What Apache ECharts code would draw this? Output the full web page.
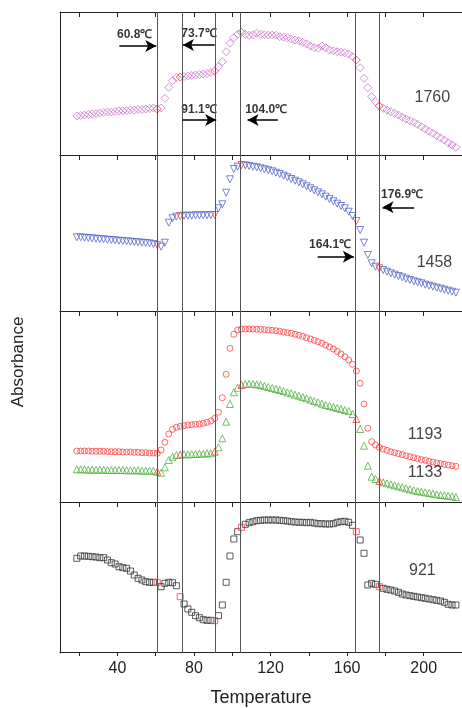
<!DOCTYPE html>
<html><head><meta charset="utf-8">
<script src="https://cdn.jsdelivr.net/npm/echarts@6/dist/echarts.min.js"></script>
<style>html,body{margin:0;padding:0;background:#fff;}#c{width:462px;height:708px;}</style>
</head><body><div id="c"></div>
<script>
// ---- data ----
const temps = [
18.8,20.8,22.8,24.8,26.8,28.8,30.8,32.8,34.8,36.8,
38.8,40.8,42.8,44.8,46.8,48.8,50.8,52.8,54.8,56.8,
58.8,60.8,62.8,64.8,66.8,68.8,70.8,72.8,74.8,76.8,
78.8,80.8,82.8,84.8,86.8,88.8,90.8,92.8,94.8,96.8,
98.8,100.8,102.8,104.8,106.8,108.8,110.8,112.8,114.8,116.8,
118.8,120.8,122.8,124.8,126.8,128.8,130.8,132.8,134.8,136.8,
138.8,140.8,142.8,144.8,146.8,148.8,150.8,152.8,154.8,156.8,
158.8,160.8,162.8,164.8,166.8,168.8,170.8,172.8,174.8,176.8,
178.8,180.8,182.8,184.8,186.8,188.8,190.8,192.8,194.8,196.8,
198.8,200.8,202.8,204.8,206.8,208.8,210.8,212.8,214.8,216.8];

const abs1760 = [
39,39.5,40,40.5,41,41.5,42,42.5,43,43,
43.5,44,44,44.5,45,45,45.5,45.5,46,46.5,
47,46,47,56.7,67.7,74.3,77.5,78,78.5,79,
79.5,80,80.5,81,81.5,82.5,84,88.3,93.3,103.3,
111.7,117.3,120.7,122.7,120.7,119.7,120.3,121.7,120.7,120.3,
120,120,119.7,118.3,117.7,117.3,116,115,114,112.7,
111,109,107.3,106.7,109,107.3,105,104.3,103.3,102.7,
102.3,101,98.3,95,87.3,76.7,67.3,58.3,53.3,49,
46.7,45,43.3,41.7,40,37.7,36,34.3,32.7,30.7,
28.3,26,23.7,21.7,19.3,17,15,12.3,10,7.7];

const abs1458 = [
73.7,73.7,73.3,73,72.7,72.3,72,71.7,71.3,71,
70.7,70.3,70,69.7,69.3,69,68.7,68.3,68,67.7,
67,66,64.3,68.3,88.3,92.7,94.3,95,95.3,95.3,
95.3,95.7,95.7,95.7,95.7,96,96,102.7,106.7,118.3,
131.7,142,144.3,146,145.7,145,144.3,143.7,142.7,141.7,
140.7,139.7,138.3,137,135.3,133.7,132,130.3,128.7,126.7,
124.7,122.7,120.7,118.7,116.7,114.3,112,109.7,107.3,105,
102.7,99.3,95,90,81,68.3,56,47.7,44.3,42.7,
41,39.3,37.7,36.3,35,33.7,32.3,31,29.7,28.7,
27.7,26.3,25.3,24.3,23.3,22.3,21.3,20.3,19.3,18.3];

const abs1193 = [
51,51,51,51,50.7,50.7,50.7,50.7,50.3,50.3,
50.3,50.3,50,50,50,49.7,49.7,49.3,49.3,49,
49,48.7,52,59.7,68,72.7,74.7,75.7,76.3,77,
77.3,77.7,78,78.7,79.7,81,83.7,89.7,104.3,127.7,
153.7,167.7,172,173,173,173,173,172.7,172.7,172.3,
172,171.7,171.3,170.7,170,169.3,168.7,167.7,166.7,165.7,
164.3,163,161.7,160.3,158.7,157,155,153,150.7,148,
145.3,142,137.7,131,118.7,98,73.7,60.3,57,54.7,
53,51.7,50.3,49.3,48.3,47.3,46.3,45.3,44.3,43.3,
42.3,41.7,40.7,40,39,38.3,37.7,37,36.3,35.7];

const abs1133 = [
32.7,32.7,32.7,32.3,32.3,32.3,32.3,32.3,32,32,
32,32,32,31.7,31.7,31.7,31.7,31.3,31.3,31.3,
31.3,30.3,29.3,34.7,42,45.3,47,47.3,47.7,47.7,
48,48,48.3,48.3,48.7,48.7,50.3,54.7,63.7,80.3,
98,109.7,114.3,117,118,118.3,118,117.7,117,116,
115,114,113,112,111,109.7,108.7,107.3,106.3,105,
103.7,102.3,101,99.7,98.3,97,96,95,94,93,
92,91,88,83,73,56.3,36.3,25.3,23,21,
19.7,18.7,17.7,16.7,15.7,14.7,13.7,12.7,11.7,11,
10.3,9.7,9,8.3,7.7,7,6.7,6.3,5.7,5];

const abs921 = [
94.7,97,97,96.7,96.3,96,95.3,95.3,93,90.3,
89,86.3,85.3,84.7,82,78,74.7,73,71.3,70.7,
70.7,70.7,66.3,69.7,70.7,70.3,67.3,56.3,49,44,
40.7,37.3,35.3,33.3,32.7,32.7,32.3,37.3,48,70.7,
97,114,121.3,125.7,128.7,130.3,131.3,132.3,132.7,133,
133,133,133,132.7,132.3,132,131.3,131,130.7,130.7,
130.3,130.7,130,129.3,129.3,129,129,129.3,130.7,131.3,
131.7,130.7,127.7,121.3,113,99.7,68,69.7,68.7,66.3,
64.7,63.7,63,62,60.7,59,58,57.3,56.7,56,
55.3,54.7,54,53.3,52.7,52,50.7,48.7,48,48];

const transitions = [60.8, 73.7, 91.1, 104.0, 164.1, 176.9];
const tickValues = [20,40,60,80,100,120,140,160,180,200,220];
const labelValues = [40,80,120,160,200];

const arrowTexts = ['60.8℃','73.7℃','91.1℃','104.0℃','176.9℃','164.1℃'];
const arrowPanels = [0,0,0,0,1,1];
const arrowFrom = [[41,109],[90.8,110],[73.9,35],[123.8,35],[195,103.7],[144.6,54.3]];
const arrowTo   = [[60.3,109],[74.2,110],[91.6,35],[108,35],[178.5,103.7],[163.5,54.3]];
const arrowTextPos = [[49,120],[82.6,121.7],[82.6,45],[117.7,45.7],[188.7,116],[151.1,66]];

const seriesNames = ['1760','1458','1193','1133','921'];
const namePanels = [0,1,2,2,3];
const namePos = [[204.5,57],[205.6,48],[200.7,67],[200.7,29],[199.3,82]];

// ---- layout ----
const FONT = '"Liberation Sans", Arial, sans-serif';
const gridTops = [12,155,311,502];
const gridHeights = [143,156,191,151];

const grids = gridTops.map((t,i)=>({left:60, right:0, top:t, height:gridHeights[i]}));
grids.push({left:60, right:0, top:gridTops[3], height:gridHeights[3]});

const xAxes = gridTops.map((t,i)=>({
  gridIndex:i, type:'value', position:'top', min:10, max:220,
  axisLine:{show:true, onZero:false, lineStyle:{color:'#222'}},
  axisTick:{show:true, inside:true, length:5, customValues:tickValues, lineStyle:{color:'#222', width:1}},
  axisLabel:{show:false, customValues:tickValues}, splitLine:{show:false}
}));
xAxes.push({
  gridIndex:4, type:'value', position:'bottom', min:10, max:220,
  axisLine:{show:true, onZero:false, lineStyle:{color:'#222'}},
  axisTick:{show:true, inside:false, length:4, customValues:tickValues, lineStyle:{color:'#222', width:1}},
  axisLabel:{show:true, customValues:labelValues, fontSize:16, color:'#222', margin:9, fontFamily:FONT},
  splitLine:{show:false},
  name:'Temperature', nameLocation:'middle', nameGap:37,
  nameTextStyle:{fontSize:18, color:'#222', fontFamily:FONT}
});

const yAxes = gridTops.map((t,i)=>({
  gridIndex:i, type:'value', min:0, max:gridHeights[i],
  axisLine:{show:true, onZero:false, lineStyle:{color:'#222'}},
  axisTick:{show:false}, axisLabel:{show:false}, splitLine:{show:false}
}));
yAxes.push({gridIndex:4, type:'value', min:0, max:gridHeights[3], show:false});

function nearestIdx(t){
  let b=0; temps.forEach((v,i)=>{ if(Math.abs(v-t)<Math.abs(temps[b]-t)) b=i; }); return b;
}
const redIdx = transitions.map(nearestIdx);

const TICK = {color:'#222', width:1, type:'solid'};
function markLineFor(gi){
  const data = transitions.map(t=>({xAxis:t, lineStyle:{color:'#555', width:1, type:'solid'}}));
  arrowPanels.forEach((p,k)=>{
    if(p!==gi) return;
    data.push([
      {coord:arrowFrom[k], symbol:'none', lineStyle:{color:'#000', width:1.5, type:'solid'}},
      {coord:arrowTo[k], symbol:'arrow', symbolSize:[9,11]}
    ]);
  });
  // tick marks: inward along panel top edge
  const top = gridHeights[gi];
  tickValues.forEach(v=>data.push([{coord:[v, top], lineStyle:TICK}, {coord:[v, top-5]}]));
  // outward ticks below the bottom axis
  if(gi===3) tickValues.forEach(v=>data.push([{coord:[v, 0], lineStyle:TICK}, {coord:[v, -4]}]));
  return {silent:true, symbol:['none','none'], label:{show:false}, animation:false, data};
}

function scatter(name, ys, gi, symbol, color, size, rotate, withLines){
  const s = {
    name, type:'scatter', xAxisIndex:gi, yAxisIndex:gi,
    symbol, symbolSize:size, symbolRotate:rotate||0, clip:false,
    itemStyle:{color:'rgba(0,0,0,0)', borderColor:color, borderWidth:1},
    data: temps.map((t,i)=> redIdx.includes(i)
      ? {value:[t, ys[i]], itemStyle:{borderColor:'#ff3b3b'}}
      : [t, ys[i]]),
    animation:false, silent:true
  };
  if(withLines) s.markLine = markLineFor(gi);
  return s;
}

const series = [
  scatter('1760', abs1760, 0, 'diamond', '#cc77cc', 8, 0, true),
  scatter('1458', abs1458, 1, 'triangle', '#5566cc', 7, 180, true),
  scatter('1193', abs1193, 2, 'circle', '#ff4444', 6, 0, true),
  scatter('1133', abs1133, 2, 'triangle', '#55b044', 7, 0, false),
  scatter('921', abs921, 3, 'rect', '#333333', 6, 0, true),
  {type:'scatter', xAxisIndex:4, yAxisIndex:4, data:[], silent:true}
];

// annotation texts
[0,1].forEach(gi=>{
  const d = [];
  arrowPanels.forEach((p,k)=>{ if(p===gi) d.push({name:arrowTexts[k], value:arrowTextPos[k]}); });
  series.push({type:'scatter', xAxisIndex:gi, yAxisIndex:gi, symbolSize:0, silent:true, animation:false,
    label:{show:true, position:'inside', formatter:'{b}', color:'#000', fontSize:12, fontWeight:'bold', fontFamily:FONT},
    data:d});
});
// series name labels
[0,1,2,3].forEach(gi=>{
  const d = [];
  namePanels.forEach((p,k)=>{ if(p===gi) d.push({name:seriesNames[k], value:namePos[k]}); });
  series.push({type:'scatter', xAxisIndex:gi, yAxisIndex:gi, symbolSize:0, silent:true, animation:false,
    label:{show:true, position:'inside', formatter:'{b}', color:'#111', fontSize:16, fontFamily:FONT},
    data:d});
});

const chart = echarts.init(document.getElementById('c'));
chart.setOption({
  animation:false,
  backgroundColor:'#fff',
  textStyle:{fontFamily:FONT},
  grid:grids, xAxis:xAxes, yAxis:yAxes, series,
  graphic:[{type:'text', x:18, y:362, rotation:Math.PI/2,
    style:{text:'Absorbance', fontSize:17, fontFamily:FONT, fill:'#222',
      textAlign:'center', textVerticalAlign:'middle', align:'center', verticalAlign:'middle'}}]
});
</script></body></html>
